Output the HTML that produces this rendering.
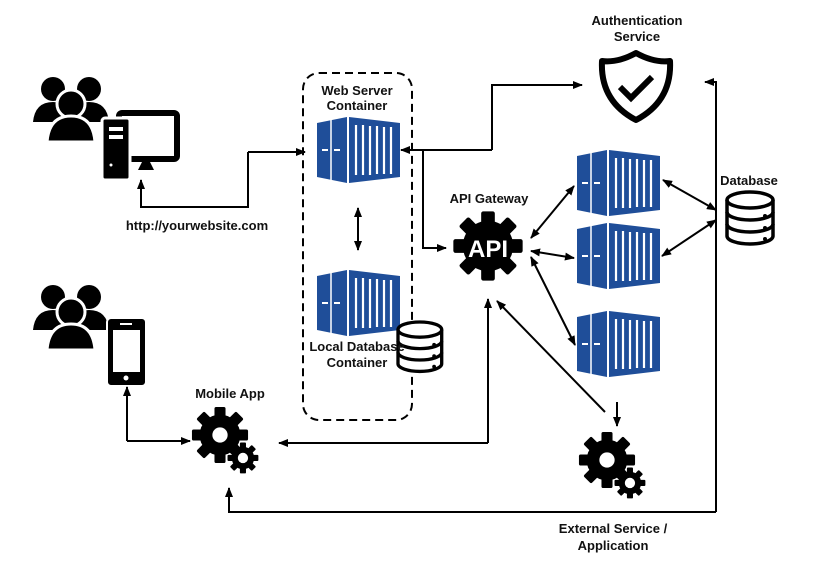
<!DOCTYPE html>
<html><head><meta charset="utf-8"><style>
html,body{margin:0;padding:0;background:#fff}
svg text{font-family:"Liberation Sans",sans-serif;font-weight:bold;font-size:13px;fill:#111;text-anchor:middle}
</style></head><body>
<svg width="818" height="575" viewBox="0 0 818 575" xmlns="http://www.w3.org/2000/svg">
<defs>
<marker id="a" markerWidth="10" markerHeight="8" refX="9" refY="4" orient="auto-start-reverse" markerUnits="userSpaceOnUse"><path d="M0,0 L10,4 L0,8 z" fill="#000"/></marker>
<g id="cont">
 <path d="M0,6 L30,0 L30,66 L0,60 z" fill="#1f4e99"/>
 <path d="M32,0 L83,6 L83,60 L32,66 z" fill="#1f4e99"/>
 <path d="M14,3 L14,63" stroke="#fff" stroke-width="1.5"/>
 <g stroke="#fff" stroke-width="2.2"><path d="M39,8V58M46,8V58M53,9V58M60,9V57M67,10V57M74,10V57"/></g>
 <path d="M5,33h6M17,33h6" stroke="#fff" stroke-width="2"/>
</g>
<g id="db">
 <path d="M0,8 a23,8 0 0 1 46,0 v36 a23,8 0 0 1 -46,0 z" fill="#fff" stroke="#000" stroke-width="3.5"/>
 <path d="M0,8 a23,8 0 0 0 46,0 M0,20 a23,8 0 0 0 46,0 M0,32 a23,8 0 0 0 46,0" fill="none" stroke="#000" stroke-width="3.5"/>
 <circle cx="38" cy="24" r="2"/><circle cx="38" cy="36" r="2"/><circle cx="38" cy="47" r="2"/>
</g>
<g id="users">
 <circle cx="20" cy="15" r="12"/><circle cx="56" cy="15" r="12"/>
 <path d="M0,48 q2,-20 20,-20 q18,0 20,20 z"/><path d="M36,48 q2,-20 20,-20 q18,0 20,20 z"/>
 <circle cx="38" cy="30" r="14" stroke="#fff" stroke-width="3"/>
 <path d="M14,68 q2,-26 24,-26 q22,0 24,26 z" stroke="#fff" stroke-width="3"/>
</g>
<g id="gear">
 <g fill="#000">
 <circle r="24"/>
 <g id="t"><rect x="-6.5" y="-33" width="13" height="12" rx="2"/></g>
 <use href="#t" transform="rotate(45)"/><use href="#t" transform="rotate(90)"/><use href="#t" transform="rotate(135)"/>
 <use href="#t" transform="rotate(180)"/><use href="#t" transform="rotate(225)"/><use href="#t" transform="rotate(270)"/><use href="#t" transform="rotate(315)"/>
 </g>
</g>
<g id="gears">
 <use href="#gear"/><circle r="9" fill="#fff"/>
 <g transform="translate(27,27) scale(0.55)"><use href="#gear"/><circle r="11" fill="#fff"/></g>
</g>
</defs>

<use href="#users" transform="translate(33,74)"/>
<rect x="119" y="113" width="58" height="46" rx="3" fill="#fff" stroke="#000" stroke-width="6"/>
<path d="M138,170 l4,-8 h8 l4,8 z" fill="#000"/>
<rect x="102" y="118" width="28" height="62" rx="3" fill="#000" stroke="#fff" stroke-width="3"/>
<rect x="109" y="127" width="14" height="4" fill="#fff"/><rect x="109" y="135" width="14" height="4" fill="#fff"/><circle cx="111" cy="165" r="1.5" fill="#fff"/>
<text x="197" y="230">http://yourwebsite.com</text>

<use href="#users" transform="translate(33,282)"/>
<rect x="107" y="318" width="39" height="68" rx="4" fill="#000" stroke="#fff" stroke-width="2"/>
<rect x="113" y="330" width="27" height="42" fill="#fff"/><circle cx="126" cy="378" r="2.5" fill="#fff"/><rect x="120" y="323" width="12" height="2" fill="#fff"/>
<text x="230" y="398">Mobile App</text>
<use href="#gears" transform="translate(220,435) scale(0.85)"/>

<rect x="303" y="73" width="109" height="347" rx="16" fill="none" stroke="#000" stroke-width="2" stroke-dasharray="8,5"/>
<text x="357" y="95">Web Server</text><text x="357" y="110">Container</text>
<use href="#cont" transform="translate(317,117)"/>
<use href="#cont" transform="translate(317,270)"/>
<use href="#db" transform="translate(398,322) scale(0.95)"/>
<text x="357" y="351">Local Database</text><text x="357" y="367">Container</text>

<text x="489" y="203">API Gateway</text>
<g transform="translate(488,246) scale(1.05)"><use href="#gear"/></g>
<text x="488" y="257" style="fill:#fff;font-size:24px;font-weight:bold">API</text>

<text x="637" y="25">Authentication</text><text x="637" y="41">Service</text>
<path d="M636,53 q18,10 34,8 q2,40 -34,59 q-36,-19 -34,-59 q16,2 34,-8 z" fill="#fff" stroke="#000" stroke-width="6" stroke-linejoin="round"/>
<path d="M620,87 l11,11 l21,-21" fill="none" stroke="#000" stroke-width="6"/>

<use href="#cont" transform="translate(577,150)"/>
<use href="#cont" transform="translate(577,223)"/>
<use href="#cont" transform="translate(577,311)"/>
<text x="749" y="185">Database</text>
<use href="#db" transform="translate(727,192)"/>

<use href="#gears" transform="translate(607,460) scale(0.85)"/>
<text x="613" y="533">External Service /</text><text x="613" y="550">Application</text>

<g fill="none" stroke="#000" stroke-width="2">
<path d="M248,152 H305" marker-end="url(#a)"/>
<path d="M248,152 V207 H141 V180" marker-end="url(#a)"/>
<path d="M358,208 V250" marker-start="url(#a)" marker-end="url(#a)"/>
<path d="M492,150 H401" marker-end="url(#a)"/>
<path d="M492,150 V85 H582" marker-end="url(#a)"/>
<path d="M423,150 V248 H446" marker-end="url(#a)"/>
<path d="M531,238 L574,186" marker-start="url(#a)" marker-end="url(#a)"/>
<path d="M531,251 L574,258" marker-start="url(#a)" marker-end="url(#a)"/>
<path d="M531,257 L575,345" marker-start="url(#a)" marker-end="url(#a)"/>
<path d="M716,210 L663,180" marker-start="url(#a)" marker-end="url(#a)"/>
<path d="M716,220 L662,256" marker-start="url(#a)" marker-end="url(#a)"/>
<path d="M716,512 V82 H705" marker-end="url(#a)"/>
<path d="M716,512 H229 V488" marker-end="url(#a)"/>
<path d="M127,441 V387" marker-end="url(#a)"/>
<path d="M127,441 H190" marker-end="url(#a)"/>
<path d="M488,443 V299" marker-end="url(#a)"/>
<path d="M488,443 H279" marker-end="url(#a)"/>
<path d="M605,412 L497,301" marker-end="url(#a)"/>
<path d="M617,402 V426" marker-end="url(#a)"/>
</g>
</svg>
</body></html>
